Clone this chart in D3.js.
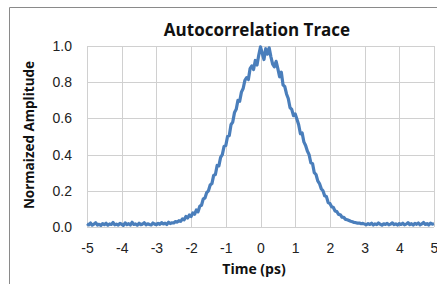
<!DOCTYPE html>
<html>
<head>
<meta charset="utf-8">
<script src="https://cdn.jsdelivr.net/npm/d3@7"></script>
<style>
  body { margin: 0; background: #fff; }
  svg { display: block; font-family: "Open Sans", "Noto Sans", sans-serif; }
  .grid line { stroke: #d0d0d0; stroke-width: 1; }
  .tick text { fill: #222; }
</style>
</head>
<body>
<svg id="chart" width="437" height="284"></svg>
<script>
// sample times (ps)
const timePs = [
  -5.00,-4.95,-4.90,-4.85,-4.80,-4.75,-4.70,-4.65,-4.60,-4.55,
  -4.50,-4.45,-4.40,-4.35,-4.30,-4.25,-4.20,-4.15,-4.10,-4.05,
  -4.00,-3.95,-3.90,-3.85,-3.80,-3.75,-3.70,-3.65,-3.60,-3.55,
  -3.50,-3.45,-3.40,-3.35,-3.30,-3.25,-3.20,-3.15,-3.10,-3.05,
  -3.00,-2.95,-2.90,-2.85,-2.80,-2.75,-2.70,-2.65,-2.60,-2.55,
  -2.50,-2.45,-2.40,-2.35,-2.30,-2.25,-2.20,-2.15,-2.10,-2.05,
  -2.00,-1.95,-1.90,-1.85,-1.80,-1.75,-1.70,-1.65,-1.60,-1.55,
  -1.50,-1.45,-1.40,-1.35,-1.30,-1.25,-1.20,-1.15,-1.10,-1.05,
  -1.00,-0.95,-0.90,-0.85,-0.80,-0.75,-0.70,-0.65,-0.60,-0.55,
  -0.50,-0.45,-0.40,-0.35,-0.30,-0.25,-0.20,-0.15,-0.10,-0.05,
  0.00,0.05,0.10,0.15,0.20,0.25,0.30,0.35,0.40,0.45,
  0.50,0.55,0.60,0.65,0.70,0.75,0.80,0.85,0.90,0.95,
  1.00,1.05,1.10,1.15,1.20,1.25,1.30,1.35,1.40,1.45,
  1.50,1.55,1.60,1.65,1.70,1.75,1.80,1.85,1.90,1.95,
  2.00,2.05,2.10,2.15,2.20,2.25,2.30,2.35,2.40,2.45,
  2.50,2.55,2.60,2.65,2.70,2.75,2.80,2.85,2.90,2.95,
  3.00,3.05,3.10,3.15,3.20,3.25,3.30,3.35,3.40,3.45,
  3.50,3.55,3.60,3.65,3.70,3.75,3.80,3.85,3.90,3.95,
  4.00,4.05,4.10,4.15,4.20,4.25,4.30,4.35,4.40,4.45,
  4.50,4.55,4.60,4.65,4.70,4.75,4.80,4.85,4.90,4.95,
  5.00
];

// normalized amplitude
const amplitude = [
  0.018,0.012,0.022,0.010,0.016,0.024,0.011,0.015,0.009,0.019,
  0.013,0.021,0.010,0.017,0.014,0.025,0.012,0.016,0.011,0.020,
  0.015,0.009,0.023,0.013,0.018,0.011,0.026,0.014,0.017,0.010,
  0.021,0.013,0.016,0.024,0.012,0.018,0.014,0.011,0.022,0.016,
  0.013,0.020,0.015,0.024,0.017,0.021,0.014,0.026,0.019,0.023,
  0.022,0.030,0.027,0.035,0.031,0.045,0.040,0.058,0.050,0.066,
  0.058,0.078,0.070,0.094,0.084,0.115,0.120,0.155,0.160,0.190,
  0.200,0.232,0.240,0.285,0.290,0.340,0.338,0.385,0.400,0.445,
  0.450,0.500,0.505,0.565,0.580,0.632,0.650,0.700,0.695,0.745,
  0.765,0.810,0.825,0.815,0.875,0.890,0.870,0.920,0.895,0.950,
  0.995,0.960,0.925,0.985,0.955,0.990,0.940,0.900,0.885,0.915,
  0.875,0.830,0.855,0.785,0.775,0.735,0.710,0.660,0.650,0.615,
  0.625,0.595,0.565,0.515,0.520,0.470,0.450,0.420,0.400,0.355,
  0.350,0.300,0.290,0.255,0.240,0.212,0.200,0.172,0.168,0.135,
  0.130,0.112,0.108,0.088,0.085,0.070,0.068,0.054,0.053,0.042,
  0.040,0.036,0.032,0.029,0.025,0.024,0.021,0.022,0.018,0.020,
  0.016,0.012,0.019,0.014,0.021,0.011,0.017,0.013,0.022,0.015,
  0.010,0.018,0.014,0.020,0.012,0.016,0.023,0.013,0.017,0.011,
  0.019,0.014,0.021,0.012,0.016,0.024,0.013,0.018,0.011,0.020,
  0.015,0.022,0.012,0.017,0.025,0.014,0.019,0.011,0.021,0.016,
  0.018
];

const xTicks = [-5, -4, -3, -2, -1, 0, 1, 2, 3, 4, 5];
const yTicks = [0, 0.2, 0.4, 0.6, 0.8, 1.0];

const chartTitle = "Autocorrelation Trace";
const xTitle = "Time (ps)";
const yTitle = "Normaized Amplitude";

const svg = d3.select("#chart");
const plotLeft = 87, plotRight = 434, plotTop = 46, plotBottom = 227;

const x = d3.scaleLinear().domain([-5, 5]).range([plotLeft, plotRight]);
const y = d3.scaleLinear().domain([0, 1]).range([plotBottom, plotTop]);

// outer chart frame (only top and left edges are visible)
svg.append("path")
    .attr("d", "M9.5,284V7.5H437")
    .attr("fill", "none")
    .attr("stroke", "#8a8a8a")
    .attr("stroke-width", 1);

// gridlines
const grid = svg.append("g").attr("class", "grid");
grid.selectAll(".vx")
    .data(xTicks)
    .enter().append("line")
      .attr("x1", d => Math.round(x(d)) + 0.5)
      .attr("x2", d => Math.round(x(d)) + 0.5)
      .attr("y1", plotTop)
      .attr("y2", plotBottom);
grid.selectAll(".hy")
    .data(yTicks)
    .enter().append("line")
      .attr("x1", plotLeft)
      .attr("x2", plotRight)
      .attr("y1", d => Math.round(y(d)) + 0.5)
      .attr("y2", d => Math.round(y(d)) + 0.5);

// axes (labels only, plain hyphen for negatives)
const xAxis = svg.append("g")
    .attr("transform", `translate(0,${plotBottom})`)
    .call(d3.axisBottom(x).tickValues(xTicks).tickSize(0).tickPadding(16).tickFormat(d => String(d)));
xAxis.select(".domain").remove();
xAxis.selectAll("text").attr("font-size", 14);

const yAxis = svg.append("g")
    .attr("transform", `translate(${plotLeft},0)`)
    .call(d3.axisLeft(y).tickValues(yTicks).tickSize(0).tickPadding(15).tickFormat(d => d.toFixed(1)));
yAxis.select(".domain").remove();
yAxis.selectAll("text").attr("font-size", 14);

// trace
const line = d3.line()
    .x((d, i) => x(timePs[i]))
    .y(d => y(d));

svg.append("path")
    .datum(amplitude)
    .attr("fill", "none")
    .attr("stroke", "#4a7ebb")
    .attr("stroke-width", 3.2)
    .attr("stroke-linejoin", "round")
    .attr("d", line);

// titles
svg.append("text")
    .attr("x", 257)
    .attr("y", 36)
    .attr("text-anchor", "middle")
    .attr("font-size", 17)
    .attr("font-weight", "bold")
    .attr("fill", "#111")
    .text(chartTitle);

svg.append("text")
    .attr("x", 254)
    .attr("y", 274)
    .attr("text-anchor", "middle")
    .attr("font-size", 14)
    .attr("font-weight", "bold")
    .attr("fill", "#111")
    .text(xTitle);

svg.append("text")
    .attr("transform", "translate(34,135) rotate(-90)")
    .attr("text-anchor", "middle")
    .attr("font-size", 13.5)
    .attr("font-weight", "bold")
    .attr("fill", "#111")
    .text(yTitle);
</script>
</body>
</html>
